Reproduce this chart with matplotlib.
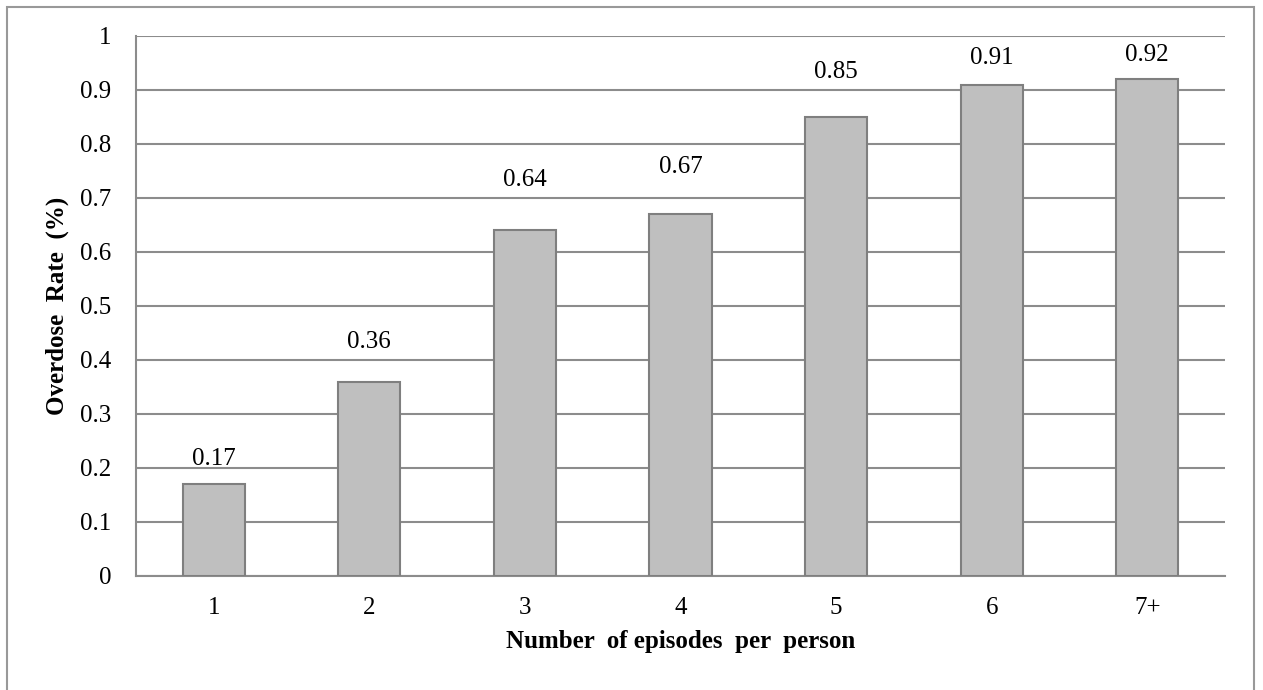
import numpy as np
import matplotlib
matplotlib.use("Agg")
import matplotlib.pyplot as plt
from matplotlib.patches import Rectangle

categories = ["1", "2", "3", "4", "5", "6", "7+"]
rates = [0.17, 0.36, 0.64, 0.67, 0.85, 0.91, 0.92]
yticks = [0, 0.1, 0.2, 0.3, 0.4, 0.5, 0.6, 0.7, 0.8, 0.9, 1]
ytick_labels = ["0", "0.1", "0.2", "0.3", "0.4", "0.5", "0.6", "0.7", "0.8", "0.9", "1"]

# label gap above each bar (pixels), as placed in the original
label_gap = [14, 29, 39, 36, 34, 16, 13]

plt.rcParams['font.family'] = ['Liberation Serif', 'DejaVu Serif']

W, H = 1263, 690
fig = plt.figure(figsize=(W / 100, H / 100), dpi=100)
ax = fig.add_axes([136 / W, 1 - 576 / H, (1225 - 136) / W, (576 - 36) / H])

grid_col = "#8c8c8c"
x = np.arange(len(categories))
ax.bar(x, rates, width=0.4, color="#bfbfbf", edgecolor="#7f7f7f", linewidth=1.5, zorder=3)

for xi, v, g in zip(x, rates, label_gap):
    ax.annotate(f"{v:.2f}", (xi, v), xytext=(0, g), textcoords="offset pixels",
                ha="center", va="bottom", fontsize=18)

ax.set_xlim(-0.5, len(categories) - 0.5)
ax.set_ylim(0, 1)
ax.set_yticks(yticks)
ax.set_yticklabels(ytick_labels, fontsize=18)
ax.set_xticks(x)
ax.set_xticklabels(categories, fontsize=18)
ax.tick_params(axis="both", length=0)
ax.tick_params(axis="y", pad=18)
ax.tick_params(axis="x", pad=15)
ax.yaxis.grid(True, color=grid_col, linewidth=1.5, zorder=0)
ax.set_axisbelow(True)
for side in ["top", "right"]:
    ax.spines[side].set_visible(False)
for side in ["left", "bottom"]:
    ax.spines[side].set_color(grid_col)
    ax.spines[side].set_linewidth(1.5)

ax.set_ylabel("Overdose  Rate  (%)", fontsize=18, fontweight="bold", labelpad=8)
ax.set_xlabel("Number  of episodes  per  person", fontsize=18, fontweight="bold", labelpad=8)

border = Rectangle((7 / W, -0.05), (1254 - 7) / W, 1 - 7 / H + 0.05,
                   transform=fig.transFigure, fill=False, edgecolor="#999999",
                   linewidth=1.5, clip_on=False)
fig.patches.append(border)

fig.savefig("out.png", dpi=100)
